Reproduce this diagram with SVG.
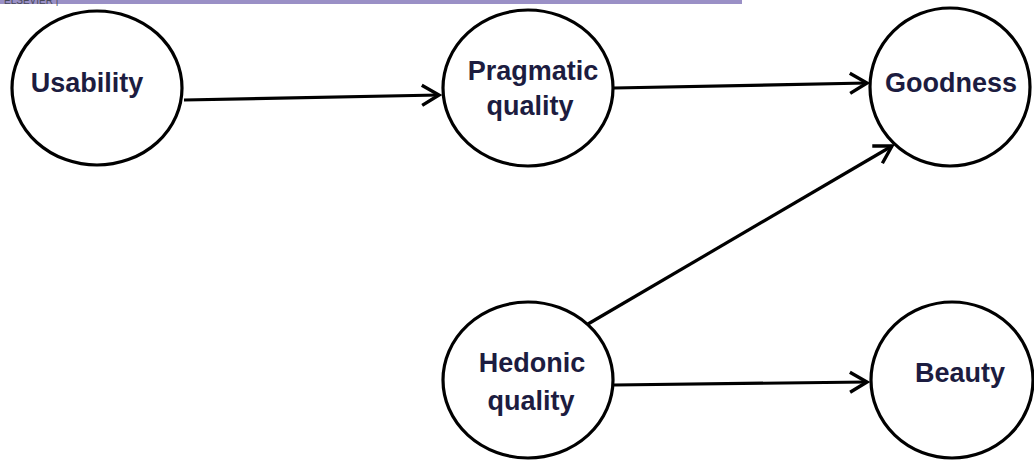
<svg xmlns="http://www.w3.org/2000/svg" width="1034" height="463" viewBox="0 0 1034 463">
  <style>
    .node ellipse { fill: #ffffff; stroke: #000000; stroke-width: 3.2; }
    .node text { font-family: "Liberation Sans", Arial, sans-serif; font-weight: bold; font-size: 27px; fill: #1c1c40; text-anchor: middle; }
    .edge { fill: none; stroke: #000000; stroke-width: 3.2; marker-end: url(#chevron); }
  </style>
  <defs>
    <marker id="chevron" markerUnits="userSpaceOnUse" viewBox="-22 -13 26 26" refX="0" refY="0" markerWidth="26" markerHeight="26" orient="auto">
      <path d="M-17,-10 L0,0 L-17,10" fill="none" stroke="#000000" stroke-width="3.4" stroke-linejoin="miter"/>
    </marker>
  </defs>

  <rect width="1034" height="463" fill="#ffffff"/>

  <!-- header strip -->
  <rect x="0" y="0" width="742" height="4" fill="#9a90c6"/>
  <text x="4" y="3.5" font-family="Liberation Sans, Arial, sans-serif" font-size="10" fill="#4a4a5a">ELSEVIER |</text>

  <!-- connectors -->
  <g id="connectors">
    <line class="edge" x1="184" y1="100" x2="439" y2="95"/>
    <line class="edge" x1="614" y1="88" x2="867" y2="83"/>
    <line class="edge" x1="588" y1="324" x2="892" y2="146"/>
    <line class="edge" x1="614" y1="385" x2="867" y2="382"/>
  </g>

  <!-- nodes -->
  <g id="usability" class="node">
    <ellipse cx="97" cy="88" rx="85" ry="77"/>
    <text x="87" y="92">Usability</text>
  </g>
  <g id="pragmatic-quality" class="node">
    <ellipse cx="528" cy="88" rx="85" ry="78"/>
    <text x="533" y="80">Pragmatic</text>
    <text x="530" y="115">quality</text>
  </g>
  <g id="goodness" class="node">
    <ellipse cx="950" cy="87" rx="80" ry="79"/>
    <text x="951" y="92">Goodness</text>
  </g>
  <g id="hedonic-quality" class="node">
    <ellipse cx="528" cy="380" rx="85" ry="78"/>
    <text x="532" y="372">Hedonic</text>
    <text x="531" y="410">quality</text>
  </g>
  <g id="beauty" class="node">
    <ellipse cx="952" cy="380" rx="81" ry="78"/>
    <text x="960" y="382">Beauty</text>
  </g>
</svg>
